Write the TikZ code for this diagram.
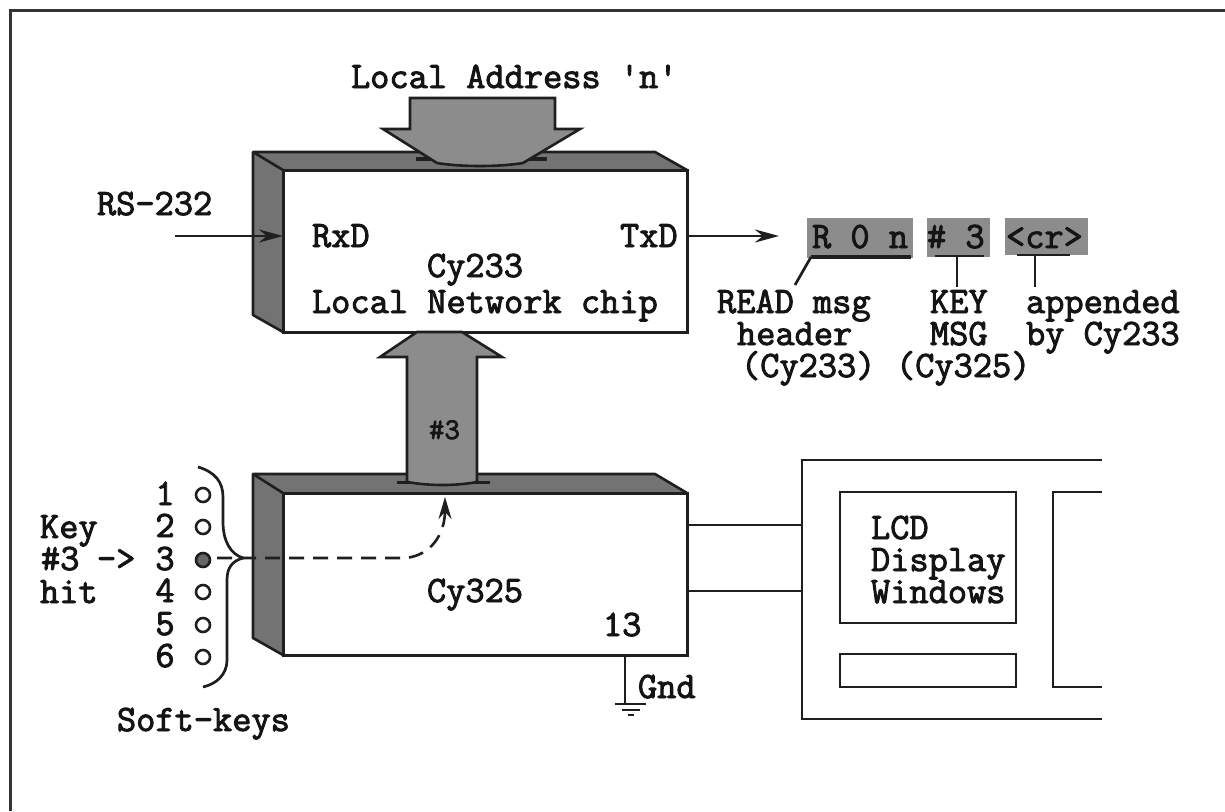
\documentclass[tikz,border=0pt]{standalone}
\usepackage{fontspec}
\newfontfamily\scanfont[FakeBold=2.5]{Latin Modern Mono}
\usetikzlibrary{arrows.meta}
\begin{document}
\begin{tikzpicture}[x=1pt,y=-1pt,
  every node/.style={inner sep=0pt,outer sep=0pt},
  ink/.style={draw=black!88,line width=3pt},
  thin ink/.style={draw=black!88,line width=2.7pt},
  txt/.style={anchor=base west,text=black!92,font=\fontsize{37.3}{37.3}\selectfont\scanfont\bfseries},
  chipbox/.style={ink,fill=white,minimum width=404pt,minimum height=162pt},
  winbox/.style={thin ink,fill=white},
  shade/.style={fill=black!52,draw=black!88,line width=2.6pt,line join=round},
  bigarrow/.style={fill=black!45,draw=black!88,line width=2.6pt,line join=miter},
  msgbox/.style={fill=black!45,draw=none},
  keycirc/.style={circle,draw=black!88,line width=2.6pt,minimum size=14pt,fill=white},
  tip/.style={-{Stealth[length=24pt,width=13pt]}}
]
\useasboundingbox (0,0) rectangle (1225,811);
% outer frame
\coordinate (fa) at (10,811); \coordinate (fb) at (10,10); \coordinate (fc) at (1225,10);
\draw[draw=black!80,line width=3pt] (fa) -- (fb) -- (fc);

% upper chip
\fill[black!55] (253,152) -- (655,152) -- (687,170) -- (283,170) -- (283,332) -- (253,315) -- cycle;
\draw[shade,fill=none] (283,170) -- (253,152) -- (655,152) -- (687,170);
\draw[shade,fill=none] (253,152) -- (253,315) -- (283,332);
\node[chipbox] (chipA) at (485,251) {};

% lower chip
\fill[black!55] (253,474) -- (655,474) -- (687,493) -- (283,493) -- (283,655) -- (253,638) -- cycle;
\draw[shade,fill=none] (283,493) -- (253,474) -- (655,474) -- (687,493);
\draw[shade,fill=none] (253,474) -- (253,638) -- (283,655);
\node[chipbox] (chipB) at (485,574) {};

% big arrows
\draw[black!88,line width=4pt] (416,159) -- (547,159);
\draw[bigarrow] (410,98) -- (555,98) -- (555,129) -- (580,129) -- (523,163)
  .. controls (500,167) and (460,167) .. (437,163) -- (383,129) -- (410,129) -- cycle;
\draw[black!88,line width=3pt] (397,482) -- (490,482);
\draw[bigarrow] (407,482) -- (407,357) -- (380,357) -- (417,332) -- (462,332) -- (502,357)
  -- (477,357) -- (477,482) .. controls (455,486) and (430,486) .. (407,482) -- cycle;

% labels upper
\node[txt] (laddr) at (351,88) {Local Address 'n'};
\node[txt] (rs) at (97,215) {RS-232};
\node[txt] (rxd) at (312,247) {RxD};
\node[txt] (txd) at (620,247) {TxD};
\node[txt] (cyA) at (427,277) {Cy233};
\node[txt] (lnc) at (312,313) {Local Network chip};
\coordinate (rsstart) at (175,236);
\draw[thin ink,tip] (rsstart) -- (chipA.west |- rsstart);
\coordinate (txend) at (779,236);
\draw[thin ink,tip] (chipA.east |- txend) -- (txend);

% message
\node[msgbox,minimum width=106pt,minimum height=40pt] (mA) at (860,238) {};
\node[msgbox,minimum width=63pt,minimum height=39pt] (mB) at (958.5,237.5) {};
\node[msgbox,minimum width=83pt,minimum height=37pt] (mC) at (1046.5,236.5) {};
\node[txt] (tR) at (812,248) {R 0 n};
\node[txt] (tK) at (927,248) {\# 3};
\node[txt] (tC) at (1006,248) {<cr>};
\coordinate (uAa) at (811,257); \coordinate (uAb) at (911,257);
\coordinate (uBa) at (935,256); \coordinate (uBb) at (984,256);
\coordinate (uCa) at (1017,255); \coordinate (uCb) at (1070,255);
\draw[thin ink,line width=3.2pt] (uAa) -- (uAb);
\draw[thin ink] (uBa) -- (uBb);
\draw[thin ink] (uCa) -- (uCb);
\coordinate (lA) at (795,285); \coordinate (lBs) at (957,256); \coordinate (lB) at (957,287);
\coordinate (lCs) at (1035,255); \coordinate (lC) at (1035,287);
\draw[thin ink] (uAa) -- (lA);
\draw[thin ink] (lBs) -- (lB);
\draw[thin ink] (lCs) -- (lC);
\node[txt] (n1) at (717,313) {READ msg};
\node[txt] (n2) at (737,345) {header};
\node[txt] (n3) at (741,377) {(Cy233)};
\node[txt] (n4) at (930,313) {KEY};
\node[txt] (n5) at (930,345) {MSG};
\node[txt] (n6) at (896,377) {(Cy325)};
\node[txt] (n7) at (1026,313) {appended};
\node[txt] (n8) at (1026,345) {by Cy233};
\node[txt,font=\fontsize{30}{30}\selectfont\scanfont] (h3) at (429,439) {\#3};

% keys
\foreach \k/\y in {1/495,2/527,3/560,4/592,5/625,6/657}{
  \node[txt,anchor=base] (d\k) at (165,\y+10) {\k};
}
\foreach \k/\y in {1/495,2/527,4/592,5/625,6/657}{
  \node[keycirc] (c\k) at (203,\y) {};
}
\node[keycirc,fill=black!60] (c3) at (203,560) {};
\node[txt] (k1) at (40,538) {Key};
\node[txt] (k2) at (41,570) {\#3};
\node[txt] (k3) at (97,570) {->};
\node[txt] (k4) at (40,603) {hit};
\node[txt] (sk) at (117,731) {Soft-keys};
\coordinate (brA) at (198,467); \coordinate (brT) at (243,558); \coordinate (brB) at (203,687);
\draw[thin ink] (brA) .. controls (215,472) and (223,482) .. (223,497)
  -- (223,522) .. controls (223,540) and (230,554) .. (brT)
  .. controls (232,561) and (227,568) .. (227,580)
  -- (227,660) .. controls (227,675) and (216,684) .. (brB);

% dashed
\coordinate (dsh) at (217,558); \coordinate (dte) at (445,497);
\draw[draw=black!88,line width=2.6pt,dash pattern=on 15pt off 9pt,-{Stealth[length=22pt,width=13pt]}]
  (dsh) -- (405,558) .. controls (430,556) and (445,535) .. (dte);

\node[txt] (cyB) at (427,602) {Cy325};
\node[txt] (p13) at (603,636) {13};

% ground
\coordinate (gnd) at (625,704);
\draw[thin ink] (chipB.south -| gnd) -- (gnd);
\coordinate (gaa) at (615,704); \coordinate (gab) at (646,704);
\coordinate (gba) at (622,710); \coordinate (gbb) at (640,710);
\coordinate (gca) at (628,715); \coordinate (gcb) at (634,715);
\draw[thin ink] (gaa) -- (gab);
\draw[thin ink] (gba) -- (gbb);
\draw[thin ink] (gca) -- (gcb);
\node[txt] (gt) at (638,698) {Gnd};

% display
\coordinate (ow) at (802,460); \coordinate (os) at (802,719);
\coordinate (oa) at (1102,460); \coordinate (ob) at (1102,719);
\draw[thin ink] (oa) -- (ow) -- (os) -- (ob);
\node[winbox,minimum width=176pt,minimum height=131pt] (lcd) at (928,557.5) {};
\node[winbox,minimum width=176pt,minimum height=33pt] (bar) at (928,670.5) {};
\coordinate (wa) at (1102,492); \coordinate (wb) at (1053,492);
\coordinate (wc) at (1053,687); \coordinate (wd) at (1102,687);
\draw[thin ink] (wa) -- (wb) -- (wc) -- (wd);
\coordinate (wirea) at (802,525); \coordinate (wireb) at (802,591);
\draw[thin ink] (chipB.east |- wirea) -- (wirea);
\draw[thin ink] (chipB.east |- wireb) -- (wireb);
\node[txt] (l1) at (871,539) {LCD};
\node[txt] (l2) at (871,571) {Display};
\node[txt] (l3) at (871,603) {Windows};
\end{tikzpicture}
\end{document}
